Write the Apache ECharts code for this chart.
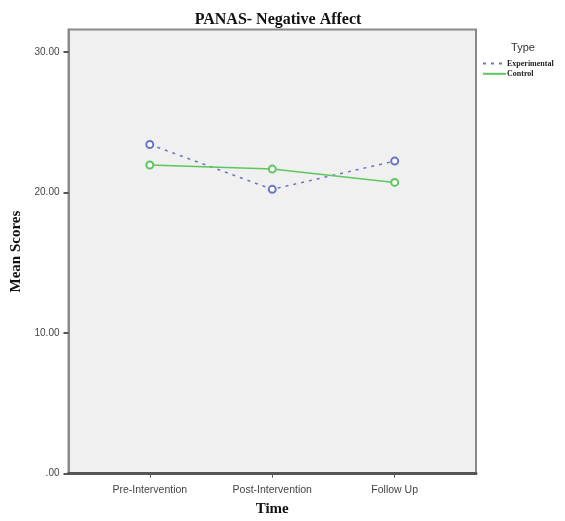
<!DOCTYPE html>
<html>
<head>
<meta charset="utf-8">
<script src="https://cdn.jsdelivr.net/npm/echarts@6/dist/echarts.min.js"></script>
<style>html,body{margin:0;padding:0;background:#fff;}#c{width:565px;height:521px;}</style>
</head>
<body>
<div id="c"></div>
<script>
const categories = ['Pre-Intervention', 'Post-Intervention', 'Follow Up'];
const experimental = [23.42, 20.23, 22.24];
const control = [21.96, 21.67, 20.72];
const yTicks = [0, 10, 20, 30];

const toPts = arr => arr.map((v, i) => [i, v]);
const blue = '#6a74c8', green = '#5cc75c';
const serif = '"Liberation Serif", "DejaVu Serif", serif';
const sans = '"Liberation Sans", Arial, sans-serif';

const chart = echarts.init(document.getElementById('c'));
chart.setOption({
  animation: false,
  title: [
    { text: 'PANAS- Negative Affect', left: 273, top: 7, textAlign: 'center',
      textStyle: { fontFamily: serif, fontWeight: 'bold', fontSize: 16, color: '#111' } },
    { text: 'Type', left: 518, top: 37, textAlign: 'center',
      textStyle: { fontFamily: sans, fontWeight: 'normal', fontSize: 11, color: '#333' } }
  ],
  legend: {
    orient: 'vertical', left: 477, top: 54, itemGap: 1,
    itemWidth: 23, itemHeight: 9,
    itemStyle: { opacity: 0 },
    textStyle: { fontFamily: serif, fontWeight: 'bold', fontSize: 8, color: '#222', padding: [0, 0, 0, -4] },
    data: ['Experimental', 'Control']
  },
  grid: {
    left: 68.5, right: 89, top: 29.5, bottom: 47.3,
    outerBoundsMode: 'none', containLabel: false,
    show: true, backgroundColor: '#f0f0f0', borderColor: '#8a8a8a', borderWidth: 2
  },
  xAxis: {
    type: 'value', min: -0.664, max: 2.664,
    name: 'Time', nameLocation: 'middle', nameGap: 28,
    nameTextStyle: { fontFamily: serif, fontWeight: 'bold', fontSize: 15, color: '#111' },
    axisLine: { show: true, onZero: false, lineStyle: { color: '#555', width: 3 } },
    axisTick: { show: true, length: 4, customValues: [0, 1, 2], lineStyle: { color: '#555', width: 1 } },
    axisLabel: { customValues: [0, 1, 2], formatter: v => categories[Math.round(v)] || '',
      fontFamily: sans, fontSize: 10.5, color: '#444', margin: 11 },
    splitLine: { show: false }
  },
  yAxis: {
    type: 'value', min: 0, max: 31.6,
    name: 'Mean Scores', nameLocation: 'middle', nameGap: 43, nameRotate: 90,
    nameTextStyle: { fontFamily: serif, fontWeight: 'bold', fontSize: 15, color: '#111' },
    axisLine: { show: true, onZero: false, lineStyle: { color: '#8a8a8a', width: 2 } },
    axisTick: { show: true, length: 5, customValues: yTicks, lineStyle: { color: '#555', width: 2 } },
    axisLabel: { customValues: yTicks, formatter: v => v === 0 ? '.00' : v.toFixed(2),
      fontFamily: sans, fontSize: 10, color: '#444', margin: 9 },
    splitLine: { show: false }
  },
  series: [
    { name: 'Experimental', type: 'line', data: toPts(experimental),
      symbol: 'emptyCircle', symbolSize: 7,
      itemStyle: { color: blue, borderWidth: 1 },
      lineStyle: { color: blue, width: 1.5, type: [3, 5] } },
    { name: 'Control', type: 'line', data: toPts(control),
      symbol: 'emptyCircle', symbolSize: 7,
      itemStyle: { color: green, borderWidth: 1 },
      lineStyle: { color: green, width: 1.5, type: 'solid' } }
  ]
});
</script>
</body>
</html>
